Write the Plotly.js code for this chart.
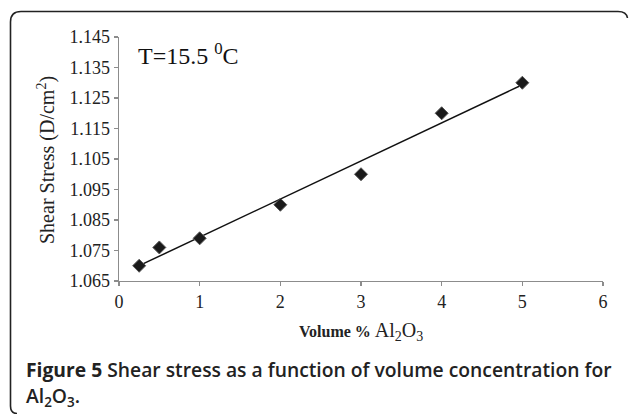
<!DOCTYPE html>
<html>
<head>
<meta charset="utf-8">
<script src="https://cdn.plot.ly/plotly-3.0.1.min.js"></script>
<style>
  html, body { margin: 0; padding: 0; background: #fff; }
  #wrap { position: relative; width: 629px; height: 414px; }
  #chart { width: 629px; height: 414px; }
  #frame { position: absolute; left: 0; top: 0; pointer-events: none; }
</style>
</head>
<body>
<div id="wrap">
  <div id="chart"></div>
  <svg id="frame" width="629" height="414">
    <path d="M 17,413.5 Q 10.5,413.5 10.5,406 L 10.5,22 Q 10.5,11.5 21,11.5 L 618,11.5 Q 626.5,11.5 627.5,18" fill="none" stroke="#222" stroke-width="1.6"/>
  </svg>
</div>
<script>
// Data
const volumePercent = [0.25, 0.5, 1, 2, 3, 4, 5];
const shearStress   = [1.070, 1.076, 1.079, 1.090, 1.100, 1.120, 1.130];
const xTickVals = [0, 1, 2, 3, 4, 5, 6];
const yTickVals = [1.065, 1.075, 1.085, 1.095, 1.105, 1.115, 1.125, 1.135, 1.145];

// Linear trendline (least squares) from the data
const n = volumePercent.length;
const mx = volumePercent.reduce((a, b) => a + b, 0) / n;
const my = shearStress.reduce((a, b) => a + b, 0) / n;
let sxy = 0, sxx = 0;
for (let i = 0; i < n; i++) {
  sxy += (volumePercent[i] - mx) * (shearStress[i] - my);
  sxx += (volumePercent[i] - mx) ** 2;
}
const slope = sxy / sxx;
const intercept = my - slope * mx;
const fitX = [Math.min(...volumePercent), Math.max(...volumePercent)];
const fitY = fitX.map(x => intercept + slope * x);

const serif = 'Liberation Serif, Times New Roman, serif';
const sans = 'Open Sans, Noto Sans, sans-serif';

const traces = [
  {
    x: fitX, y: fitY, type: 'scatter', mode: 'lines',
    line: { color: '#111', width: 1.5 }, hoverinfo: 'skip'
  },
  {
    x: volumePercent, y: shearStress, type: 'scatter', mode: 'markers',
    marker: { symbol: 'diamond', size: 10, color: '#1a1a1a', line: { color: '#555', width: 1 } }
  }
];

const layout = {
  width: 629, height: 414,
  margin: { l: 119, r: 26, t: 37, b: 133 },
  paper_bgcolor: '#fff', plot_bgcolor: '#fff',
  showlegend: false,
  xaxis: {
    range: [0, 6], tickvals: xTickVals, ticktext: xTickVals.map(String),
    showgrid: false, zeroline: false, showline: true, linecolor: '#8c8c8c', linewidth: 1.3,
    ticks: 'outside', ticklen: 4, tickcolor: '#8c8c8c', tickwidth: 1.3,
    tickfont: { family: serif, size: 18, color: '#222' },
    fixedrange: true
  },
  yaxis: {
    range: [1.065, 1.145], tickvals: yTickVals, ticktext: yTickVals.map(v => v.toFixed(3)),
    showgrid: false, zeroline: false, showline: true, linecolor: '#8c8c8c', linewidth: 1.3,
    ticks: 'outside', ticklen: 4, tickcolor: '#8c8c8c', tickwidth: 1.3,
    tickfont: { family: serif, size: 18, color: '#222' },
    fixedrange: true
  },
  annotations: [
    {
      text: 'Shear Stress (D/cm<sup>2</sup>)', xref: 'paper', yref: 'paper',
      x: (46 - 119) / 484, y: (281 - 160) / 244, xanchor: 'center', yanchor: 'middle',
      textangle: -90, showarrow: false,
      font: { family: serif, size: 20, color: '#222' }
    },
    {
      text: '<span style="font-weight:bold;font-size:16px">Volume %</span> Al<sub>2</sub>O<sub>3</sub>',
      xref: 'paper', yref: 'paper', x: (361 - 119) / 484, y: (281 - 331) / 244,
      xanchor: 'center', yanchor: 'middle', showarrow: false,
      font: { family: serif, size: 20, color: '#222' }
    },
    {
      text: 'T=15.5 <sup>0</sup>C', xref: 'paper', yref: 'paper',
      x: (136 - 119) / 484, y: (281 - 54) / 244, xanchor: 'left', yanchor: 'middle', showarrow: false,
      font: { family: serif, size: 24, color: '#111' }
    },
    {
      text: '<b>Figure 5</b> Shear stress as a function of volume concentration for',
      xref: 'paper', yref: 'paper', x: (24 - 119) / 484, y: (281 - 369) / 244, xanchor: 'left', yanchor: 'middle',
      showarrow: false, font: { family: sans, size: 19.3, color: '#222', weight: 600 }
    },
    {
      text: 'Al<sub>2</sub>O<sub>3</sub>.',
      xref: 'paper', yref: 'paper', x: (24 - 119) / 484, y: (281 - 397) / 244, xanchor: 'left', yanchor: 'middle',
      showarrow: false, font: { family: sans, size: 19.3, color: '#222', weight: 600 }
    }
  ]
};

Plotly.newPlot('chart', traces, layout, { staticPlot: true, displayModeBar: false });
</script>
</body>
</html>
